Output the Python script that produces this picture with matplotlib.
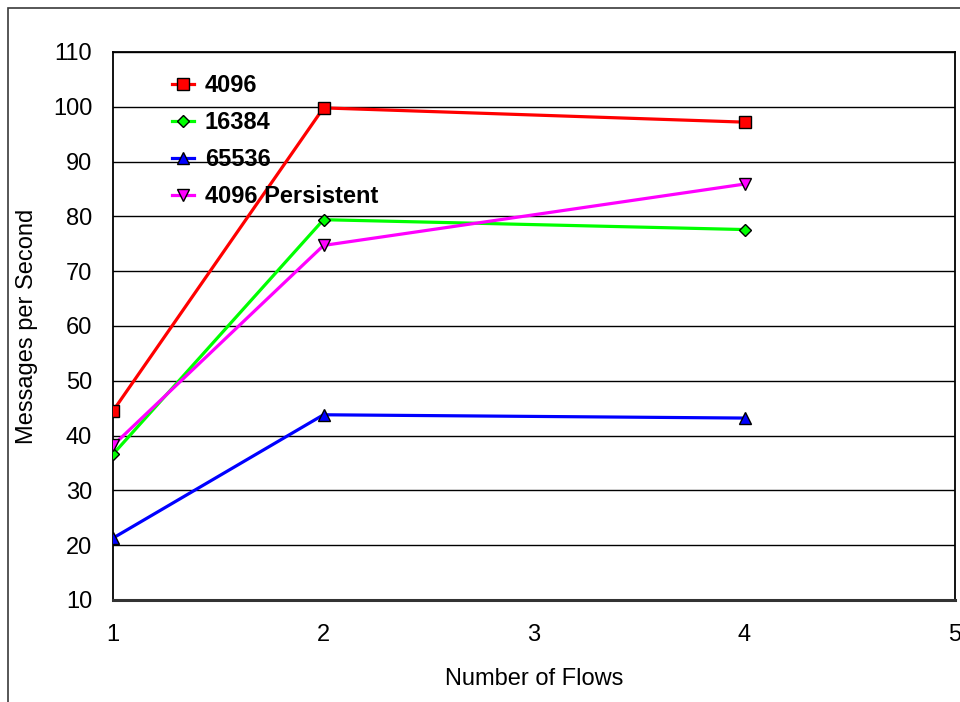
import matplotlib
matplotlib.use("Agg")
import matplotlib.pyplot as plt
from matplotlib.patches import Rectangle

# flows on the x axis and measured message rates per message size
flows = [1, 2, 4]
rate_4096 = [44.5, 99.8, 97.2]
rate_16384 = [36.6, 79.4, 77.6]
rate_65536 = [21.3, 43.8, 43.2]
rate_4096_persist = [38.2, 74.7, 85.9]

labels = ["4096", "16384", "65536", "4096 Persistent"]
x_ticks = [1, 2, 3, 4, 5]
y_ticks = [10, 20, 30, 40, 50, 60, 70, 80, 90, 100, 110]

plt.rcParams["font.family"] = ["Liberation Sans", "DejaVu Sans"]

fig = plt.figure(figsize=(9.6, 7.02), dpi=100)
ax = fig.add_axes([113 / 960, 102 / 702, 842 / 960, 548 / 702])

# outer chart frame (only left and top edges show)
fig.add_artist(Rectangle((7.5 / 960, -0.2), 1.5, (702 - 8.5) / 702 + 0.2,
                         transform=fig.transFigure, fill=False,
                         edgecolor="#3a3a3a", lw=1.2, clip_on=False))

series = [
    (rate_4096, "#ff0000", "s", 9),
    (rate_16384, "#00ff00", "D", 6),
    (rate_65536, "#0000ff", "^", 9),
    (rate_4096_persist, "#ff00ff", "v", 9),
]
for (vals, col, mk, ms), lab in zip(series, labels):
    ax.plot(flows, vals, color=col, lw=2.3, marker=mk, markersize=ms,
            markerfacecolor=col, markeredgecolor="black", markeredgewidth=1.0,
            label=lab, zorder=3)

ax.set_xlim(1, 5)
ax.set_ylim(10, 110)
ax.set_xticks(x_ticks)
ax.set_yticks(y_ticks)
ax.tick_params(axis="both", length=0, labelsize=17)
ax.tick_params(axis="y", pad=15)
ax.tick_params(axis="x", pad=17)

ax.grid(axis="y", color="black", lw=1.0)
ax.set_axisbelow(True)
for side in ["top", "right", "left"]:
    ax.spines[side].set_linewidth(1.3)
ax.spines["bottom"].set_linewidth(2.2)
ax.spines["bottom"].set_color("#333333")

ax.set_xlabel("Number of Flows", fontsize=17, labelpad=16)
ax.set_ylabel("Messages per Second", fontsize=17, labelpad=11)

ax.legend(loc="upper left", bbox_to_anchor=(0.07, 0.96), frameon=False,
          prop={"weight": "bold", "size": 17}, handlelength=0.95,
          handletextpad=0.45, labelspacing=0.6, borderpad=0,
          borderaxespad=0)

fig.savefig("out.png", dpi=100)
